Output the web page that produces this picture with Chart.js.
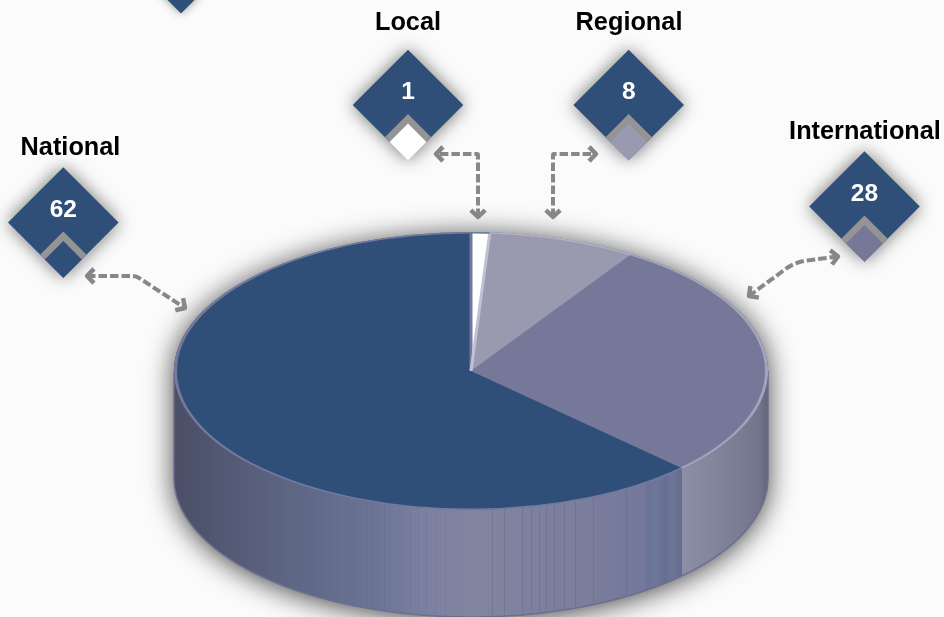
<!DOCTYPE html>
<html>
<head>
<meta charset="utf-8">
<title>Scope</title>
<script src="https://cdn.jsdelivr.net/npm/chart.js@4"></script>
<style>
  html, body { margin: 0; padding: 0; background: #fafbfa; }
  canvas { display: block; }
</style>
</head>
<body>
<canvas id="scopeChart" width="944" height="617"></canvas>
<script>
// Data
const categories = ['Local', 'Regional', 'International', 'National'];
const values = [1, 8, 28, 62];
const sliceColors = ['#ffffff', '#9999b0', '#757898', '#304f78'];
const rimColors = ['#5f7796', '#b0b2c6', '#a2a5bd', '#747a9f'];

// Callout layout, same order as categories
const calloutX = [408, 628.7, 864.5, 63.3];
const calloutY = [105, 105, 206.5, 222.5];
const labelX = [408, 629, 865, 70.5];
const labelY = [29.5, 29.5, 139, 155];
const arrowPoints = [
  [[478, 217], [478, 154], [436, 154]],
  [[553, 217], [553, 154], [596, 154]],
  [[838, 256.5], [795, 262], [749, 296]],
  [[87, 276], [136, 276], [185, 308]]
];
const arrowCorners = [1, 1, 45, 14];

// Pie placement on the page
const pieCenterX = 471;
const pieCenterY = 371;
const pieRadius = 296;
const wallRadius = 297;
const tilt = 139 / 297;
const depth = 107;

// Ridges in the side wall
const ridgeX = [
  302, 312, 321, 331, 338, 347, 353, 360, 366, 372, 378, 384, 390, 398, 410, 418, 426, 435, 445,
  492, 504, 522, 531, 539, 546, 554, 564, 575, 593, 626
];

function diamond(ctx, x, y, half) {
  ctx.beginPath();
  ctx.moveTo(x, y - half);
  ctx.lineTo(x + half, y);
  ctx.lineTo(x, y + half);
  ctx.lineTo(x - half, y);
  ctx.closePath();
}

function sidePath(ctx) {
  const ry = wallRadius * tilt;
  ctx.beginPath();
  ctx.ellipse(pieCenterX, pieCenterY, wallRadius, ry, 0, Math.PI, 0);
  ctx.ellipse(pieCenterX, pieCenterY + depth, wallRadius, ry, 0, 0, Math.PI);
  ctx.closePath();
}

function drawSide(chart) {
  const ctx = chart.ctx;
  const lastArc = chart.getDatasetMeta(0).data[2];
  const splitX = pieCenterX + pieRadius * Math.cos(lastArc.endAngle);
  const left = pieCenterX - wallRadius;
  const right = pieCenterX + wallRadius;
  const span = right - left;

  ctx.save();
  ctx.shadowColor = 'rgba(0,0,0,0.75)';
  ctx.shadowBlur = 28;
  ctx.shadowOffsetY = 3;
  sidePath(ctx);
  ctx.fillStyle = '#6b6f8c';
  ctx.fill();
  ctx.restore();

  const g = ctx.createLinearGradient(left, 0, right, 0);
  const stops = [
    [174, '#4a4e66'], [240, '#565b78'], [300, '#5e6885'], [380, '#6d7596'], [420, '#7c7fa0'],
    [480, '#82849f'], [590, '#7a7d9c'], [645, '#74789a'], [648, '#69739a'], [655, '#6f7798'],
    [665, '#656f94'], [672, '#6e7696'], [682, '#656d90']
  ];
  stops.forEach(s => g.addColorStop((s[0] - left) / span, s[1]));

  const g2 = ctx.createLinearGradient(splitX, 0, right, 0);
  g2.addColorStop(0, '#8d8fa6');
  g2.addColorStop(0.6, '#7c7e95');
  g2.addColorStop(0.9, '#73758c');
  g2.addColorStop(1, '#62647a');

  ctx.save();
  sidePath(ctx);
  ctx.clip();
  ctx.fillStyle = g;
  ctx.fillRect(left, 0, splitX - left, 617);
  ctx.fillStyle = g2;
  ctx.fillRect(splitX, 0, right - splitX, 617);
  ctx.lineWidth = 1;
  ridgeX.forEach(x => {
    ctx.strokeStyle = x < 450 ? 'rgba(88,98,140,0.18)' : 'rgba(88,98,140,0.35)';
    ctx.beginPath();
    ctx.moveTo(x + 0.5, 400);
    ctx.lineTo(x + 0.5, 617);
    ctx.stroke();
  });
  ctx.restore();

  // Outline only on the lower half, the top face has its own rim
  ctx.beginPath();
  ctx.moveTo(pieCenterX + wallRadius, pieCenterY);
  ctx.ellipse(pieCenterX, pieCenterY + depth, wallRadius, wallRadius * tilt, 0, 0, Math.PI);
  ctx.lineTo(pieCenterX - wallRadius, pieCenterY);
  ctx.strokeStyle = '#6c6f90';
  ctx.lineWidth = 1.5;
  ctx.stroke();
}

// Runs while the canvas is still squashed, so the rim thins out at top and bottom
function drawRim(chart) {
  const ctx = chart.ctx;
  const arcs = chart.getDatasetMeta(0).data;
  const cx = arcs[0].x;
  const cy = arcs[0].y;
  const local = arcs[0];
  ctx.save();
  ctx.lineWidth = 3;
  [[local.startAngle, '#7178a0'], [local.endAngle, '#c0c2d4']].forEach(edge => {
    ctx.strokeStyle = edge[1];
    ctx.beginPath();
    ctx.moveTo(cx, cy);
    ctx.lineTo(cx + pieRadius * Math.cos(edge[0]), cy + pieRadius * Math.sin(edge[0]));
    ctx.stroke();
  });
  arcs.forEach((a, i) => {
    ctx.strokeStyle = rimColors[i];
    ctx.beginPath();
    ctx.arc(cx, cy, pieRadius - 0.5, a.startAngle, a.endAngle);
    ctx.stroke();
  });
  ctx.restore();
}

function drawArrow(ctx, pts, corner) {
  ctx.save();
  ctx.strokeStyle = '#86888b';
  ctx.lineWidth = 4;
  ctx.lineJoin = 'round';
  ctx.setLineDash([8.5, 3]);
  ctx.beginPath();
  ctx.moveTo(pts[0][0], pts[0][1]);
  ctx.arcTo(pts[1][0], pts[1][1], pts[2][0], pts[2][1], corner);
  ctx.lineTo(pts[2][0], pts[2][1]);
  ctx.stroke();
  ctx.setLineDash([]);
  ctx.lineWidth = 4.5;
  [[pts[0], pts[1]], [pts[2], pts[1]]].forEach(end => {
    const a = Math.atan2(end[0][1] - end[1][1], end[0][0] - end[1][0]);
    ctx.beginPath();
    ctx.moveTo(end[0][0] - 10 * Math.cos(a - 0.8), end[0][1] - 10 * Math.sin(a - 0.8));
    ctx.lineTo(end[0][0], end[0][1]);
    ctx.lineTo(end[0][0] - 10 * Math.cos(a + 0.8), end[0][1] - 10 * Math.sin(a + 0.8));
    ctx.stroke();
  });
  ctx.restore();
}

function drawCallout(ctx, i) {
  const x = calloutX[i];
  const y = calloutY[i];
  ctx.save();
  ctx.shadowColor = 'rgba(0,0,0,0.55)';
  ctx.shadowBlur = 18;
  diamond(ctx, x, y, 55.3);
  ctx.fillStyle = '#304f78';
  ctx.fill();
  ctx.restore();

  // Grey notch stays inside the big diamond
  ctx.save();
  diamond(ctx, x, y, 55.3);
  ctx.clip();
  diamond(ctx, x, y + 37, 28);
  ctx.fillStyle = '#949496';
  ctx.fill();
  ctx.restore();

  diamond(ctx, x, y + 37, 18.5);
  ctx.fillStyle = sliceColors[i];
  ctx.fill();

  ctx.textAlign = 'center';
  ctx.textBaseline = 'alphabetic';
  ctx.fillStyle = '#000000';
  ctx.font = 'bold 25.3px "Liberation Sans"';
  ctx.fillText(categories[i], labelX[i], labelY[i]);
  ctx.fillStyle = '#ffffff';
  ctx.font = 'bold 24.5px "Liberation Sans"';
  ctx.fillText(String(values[i]), x, y - 6);
}

const pie3d = {
  id: 'pie3d',
  beforeDatasetsDraw(chart) {
    const ctx = chart.ctx;
    const arc = chart.getDatasetMeta(0).data[0];
    drawSide(chart);
    // Squash the round pie into the top face
    ctx.save();
    ctx.translate(pieCenterX, pieCenterY);
    ctx.scale(1, tilt);
    ctx.translate(-arc.x, -arc.y);
  },
  afterDatasetsDraw(chart) {
    const ctx = chart.ctx;
    drawRim(chart);
    ctx.restore();
    arrowPoints.forEach((pts, i) => drawArrow(ctx, pts, arrowCorners[i]));
    categories.forEach((c, i) => drawCallout(ctx, i));

    // Tip of the diamond cut off by the top edge
    ctx.save();
    ctx.shadowColor = 'rgba(0,0,0,0.4)';
    ctx.shadowBlur = 10;
    diamond(ctx, 181, -5, 18.5);
    ctx.fillStyle = '#304f78';
    ctx.fill();
    ctx.restore();
  }
};

new Chart(document.getElementById('scopeChart'), {
  type: 'pie',
  data: {
    labels: categories,
    datasets: [{
      data: values,
      backgroundColor: sliceColors,
      borderWidth: 0,
      clip: false
    }]
  },
  options: {
    responsive: false,
    animation: false,
    radius: pieRadius,
    plugins: {
      legend: { display: false },
      tooltip: { enabled: false }
    }
  },
  plugins: [pie3d]
});
</script>
</body>
</html>
